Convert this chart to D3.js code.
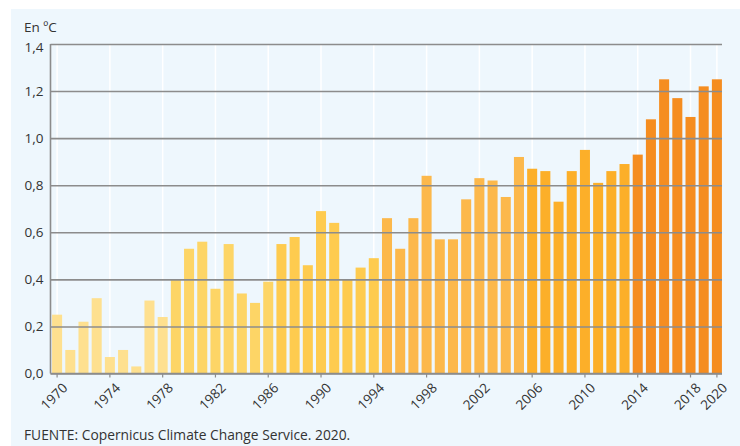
<!DOCTYPE html>
<html>
<head>
<meta charset="utf-8">
<script src="https://cdn.jsdelivr.net/npm/d3@7"></script>
<style>
  body { margin: 0; background: #fff; }
  text { font-family: "Open Sans", sans-serif; fill: #333; }
</style>
</head>
<body>
<div class="canvas"></div>
<script>
const years = d3.range(1970, 2021);
const values = [
  0.25, 0.10, 0.22, 0.32, 0.07, 0.10, 0.03, 0.31, 0.24, 0.40,
  0.53, 0.56, 0.36, 0.55, 0.34, 0.30, 0.39, 0.55, 0.58, 0.46,
  0.69, 0.64, 0.40, 0.45, 0.49, 0.66, 0.53, 0.66, 0.84, 0.57,
  0.57, 0.74, 0.83, 0.82, 0.75, 0.92, 0.87, 0.86, 0.73, 0.86,
  0.95, 0.81, 0.86, 0.89, 0.93, 1.08, 1.25, 1.17, 1.09, 1.22,
  1.25
];
const yTicks = [0, 0.2, 0.4, 0.6, 0.8, 1.0, 1.2, 1.4];
const xTickYears = [1970, 1974, 1978, 1982, 1986, 1990, 1994, 1998, 2002, 2006, 2010, 2014, 2018, 2020];
// colour groups: first year of each group and its colour
const groupStarts = [1979, 1987, 1995, 2006, 2014];
const groupColours = ['#fee08f', '#fdd566', '#fecb4f', '#fcb84b', '#fcaf29', '#f58d20'];

const dims = { width: 740, height: 446 };
const plot = { left: 50.5, right: 723.5, top: 44, bottom: 373.5 };

const svg = d3.select('.canvas')
  .append('svg')
  .attr('width', dims.width)
  .attr('height', dims.height);

// light blue panel
svg.append('rect')
  .attr('x', 11).attr('y', 9)
  .attr('width', dims.width - 11).attr('height', dims.height - 9)
  .attr('fill', '#eef7fd');

const x = d3.scaleBand()
  .domain(years)
  .range([plot.left, plot.right])
  .paddingInner(0.24)
  .paddingOuter(0.12);

const y = d3.scaleLinear()
  .domain([0, 1.4])
  .range([plot.bottom, plot.top]);

const colour = d3.scaleThreshold()
  .domain(groupStarts)
  .range(groupColours);

const xc = d => x(d) + x.bandwidth() / 2;

// white vertical grid at labelled years
svg.append('g')
  .selectAll('line')
  .data(xTickYears)
  .enter().append('line')
    .attr('x1', xc).attr('x2', xc)
    .attr('y1', plot.top).attr('y2', plot.bottom)
    .attr('stroke', '#ffffff')
    .attr('stroke-width', 1.5);

// bars
svg.append('g')
  .selectAll('rect')
  .data(years)
  .enter().append('rect')
    .attr('x', d => x(d))
    .attr('width', x.bandwidth())
    .attr('y', (d, i) => y(values[i]))
    .attr('height', (d, i) => y(0) - y(values[i]))
    .attr('fill', d => colour(d));

// horizontal grid lines drawn over the bars
const yAxis = d3.axisLeft(y)
  .tickValues(yTicks)
  .tickSize(-(plot.right - plot.left - 1.5))
  .tickPadding(8)
  .tickFormat(d => d3.format('.1f')(d).replace('.', ','));

const gy = svg.append('g')
  .attr('transform', `translate(${plot.left},0)`)
  .call(yAxis);
gy.select('.domain').remove();
gy.selectAll('.tick line')
  .attr('stroke', '#8c8c8c')
  .attr('stroke-width', 1.6);
gy.selectAll('.tick text')
  .attr('x', -7)
  .attr('y', d => d === 1.4 ? 3 : 0)
  .style('font-size', '13.5px')
  .style('font-family', '"Open Sans", sans-serif')
  .attr('fill', '#333');

// left axis line
svg.append('line')
  .attr('x1', plot.left).attr('x2', plot.left)
  .attr('y1', plot.top).attr('y2', plot.bottom)
  .attr('stroke', '#8c8c8c')
  .attr('stroke-width', 1.6);

// x axis
const xAxis = d3.axisBottom(x)
  .tickValues(xTickYears)
  .tickSize(4)
  .tickSizeOuter(0);

const gx = svg.append('g')
  .attr('transform', `translate(0,${plot.bottom})`)
  .call(xAxis);
gx.select('.domain')
  .attr('d', `M${plot.left},0H${plot.right - 1.5}`)
  .attr('stroke', '#8c8c8c')
  .attr('stroke-width', 1.6);
gx.selectAll('.tick line')
  .attr('stroke', '#8c8c8c')
  .attr('stroke-width', 1.2);
gx.selectAll('.tick text')
  .style('font-size', '13.5px')
  .style('font-family', '"Open Sans", sans-serif')
  .attr('fill', '#333')
  .attr('text-anchor', 'end')
  .attr('dy', '0.35em')
  .attr('transform', 'translate(3,7) rotate(-45)');

// unit label
svg.append('text')
  .attr('x', 24).attr('y', 32)
  .style('font-size', '13.5px')
  .text('En ºC');

// source
svg.append('text')
  .attr('x', 24).attr('y', 440)
  .style('font-size', '13.8px')
  .text('FUENTE: Copernicus Climate Change Service. 2020.');
</script>
</body>
</html>
